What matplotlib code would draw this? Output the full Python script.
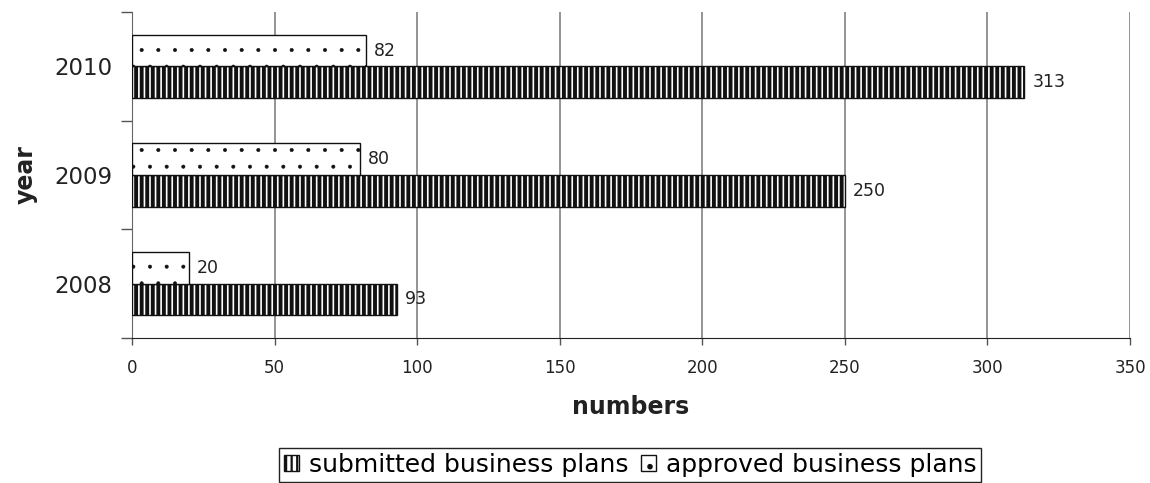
import numpy as np
import matplotlib as mpl
from matplotlib import pyplot as plt

plt.rcParams['font.family'] = ['DejaVu Sans']

years = ['2008', '2009', '2010']
submitted = [93, 250, 313]
approved = [20, 80, 82]

fig = plt.figure(figsize=(11.5, 4.83), dpi=100)
ax = fig.add_axes([132 / 1150, 1 - 338 / 483, (1130 - 132) / 1150, (338 - 12) / 483])

y = np.arange(len(years))
h = 0.29
mpl.rcParams['hatch.linewidth'] = 2.8
sub = ax.barh(y - h / 2, submitted, height=h, color='white', edgecolor='#111111',
              hatch='|||', linewidth=1.0, label='submitted business plans', zorder=3)
mpl.rcParams['hatch.linewidth'] = 0.4
app = ax.barh(y + h / 2, approved, height=h, color='white', edgecolor='#111111',
              hatch='.', linewidth=1.0, label='approved business plans', zorder=3)

for bars, vals in ((sub, submitted), (app, approved)):
    for b, v in zip(bars.patches, vals):
        ax.text(v + 2.8, b.get_y() + b.get_height() / 2, str(v), va='center', ha='left',
                fontsize=12.5, color='#222222', zorder=4)

ax.set_xlim(0, 350)
ax.set_xticks(np.arange(0, 351, 50))
ax.set_ylim(-0.5, 2.5)
ax.set_yticks(y)
ax.set_yticklabels(years, fontsize=16.5, color='#222222')
ax.set_yticks(np.arange(-0.5, 2.6, 1), minor=True)
ax.tick_params(axis='y', which='major', length=0, pad=14)
ax.tick_params(axis='y', which='minor', length=8, width=1, color='#555555')
ax.tick_params(axis='x', length=5, width=1, color='#555555', labelsize=12, pad=10, labelcolor='#222222')
ax.grid(axis='x', color='#777777', linewidth=1.1, zorder=0)
for s in ('top', 'right'):
    ax.spines[s].set_visible(False)
ax.spines['left'].set_color('#666666')
ax.spines['bottom'].set_color('#222222')

ax.set_xlabel('numbers', fontsize=17, fontweight='bold', labelpad=13, color='#222222')
ax.set_ylabel('year', fontsize=17, fontweight='bold', labelpad=12, color='#222222')

mpl.rcParams['hatch.linewidth'] = 1.6
leg = fig.legend(handles=[sub, app], loc='center', bbox_to_anchor=(630 / 1150, 1 - 465 / 483),
                 ncol=2, fontsize=18, frameon=True, fancybox=False, edgecolor='#222222',
                 handlelength=0.6, handleheight=0.6, handletextpad=0.4, columnspacing=0.5,
                 borderpad=0.2, borderaxespad=0, framealpha=1)
leg.get_frame().set_linewidth(1.0)

fig.savefig('out.png', dpi=100)
